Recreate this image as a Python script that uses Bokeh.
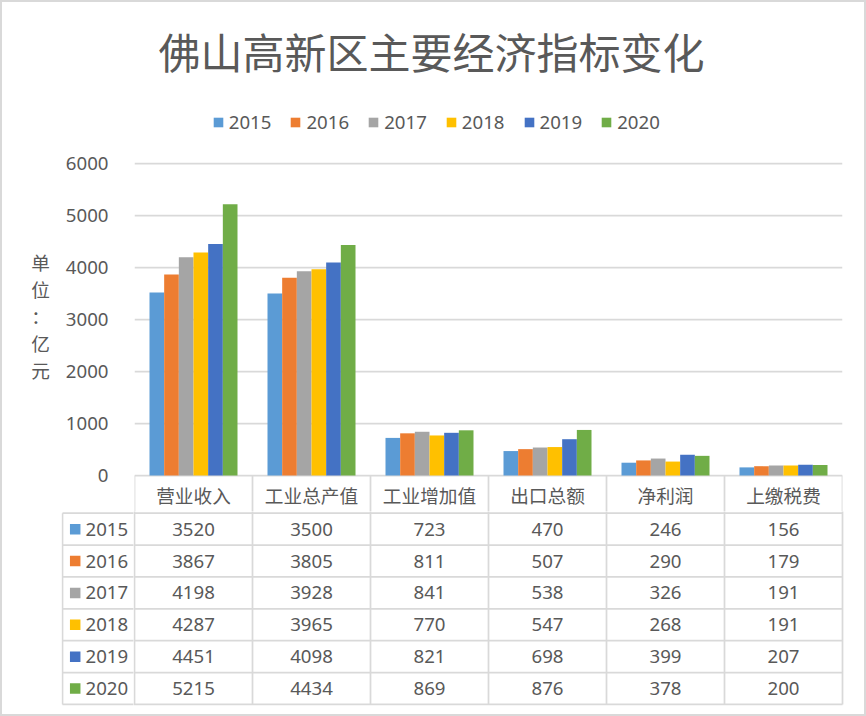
from bokeh.plotting import figure
from bokeh.layouts import column, row
from bokeh.models import Range1d, FixedTicker, Legend, LegendItem, ColumnDataSource
from bokeh.embed import file_html
from bokeh.resources import INLINE
from bokeh.core.properties import value

# ---------------- data ----------------
title_text = "佛山高新区主要经济指标变化"
unit_label = "单位：亿元"
categories = ["营业收入", "工业总产值", "工业增加值", "出口总额", "净利润", "上缴税费"]
years = ["2015", "2016", "2017", "2018", "2019", "2020"]
v2015 = [3520, 3500, 723, 470, 246, 156]
v2016 = [3867, 3805, 811, 507, 290, 179]
v2017 = [4198, 3928, 841, 538, 326, 191]
v2018 = [4287, 3965, 770, 547, 268, 191]
v2019 = [4451, 4098, 821, 698, 399, 207]
v2020 = [5215, 4434, 869, 876, 378, 200]
series = [v2015, v2016, v2017, v2018, v2019, v2020]
y_ticks = [0, 1000, 2000, 3000, 4000, 5000, 6000]

# ---------------- styles / layout ----------------
colors = ["#5B9BD5", "#ED7D31", "#A5A5A5", "#FFC000", "#4472C4", "#70AD47"]
TXT = "#595959"
GRID = "#D9D9D9"
CJK = "Noto Sans CJK SC"
LAT = "Noto Sans"
FS = "18.67px"
LW = 1.75

W = 866
H = 716
PLOT_L, PLOT_R = 134, 842
NC = len(categories)
CAT_PX = (PLOT_R - PLOT_L) / NC
TOP_H = 145          # title + legend strip
A_BOTTOM = 511       # bottom of the bar chart strip (includes table header row)
Y0_PX = 475          # pixel row of the zero line
PX_PER_1000 = 52.0
BAR_W = 0.1243
HEAD_H = 37.7
ROW_H = 31.88


def px_to_x(px):
    return (px - PLOT_L) / CAT_PX


def px_to_y(px):
    return (Y0_PX - px) * 1000 / PX_PER_1000


def clean(f):
    f.outline_line_color = None
    f.background_fill_alpha = 0
    f.border_fill_alpha = 0
    return f


sources = []
n = len(years)
for j, vals in enumerate(series):
    xs = [i + 0.5 + (j - (n - 1) / 2) * BAR_W for i in range(NC)]
    sources.append(ColumnDataSource(dict(x=xs, top=vals)))

# ---------------- title + legend strip ----------------
top = clean(figure(width=W, height=TOP_H, x_range=Range1d(0, NC), y_range=Range1d(-2, -1),
                   x_axis_type=None, y_axis_type=None,
                   output_backend="svg", toolbar_location=None,
                   min_border_left=PLOT_L, min_border_right=W - PLOT_R,
                   min_border_top=90, min_border_bottom=0))
top.xgrid.visible = False
top.ygrid.visible = False
top.title.text = title_text
top.title.text_font = CJK
top.title.text_font_size = "42px"
top.title.text_font_style = "normal"
top.title.text_color = TXT
top.title.align = "left"
top.title.offset = 24
top.title.standoff = 35

items = []
for j, yr in enumerate(years):
    # hidden renderers: they only lend their fill to the legend swatch
    sw = top.vbar(x="x", top="top", bottom="top", width=BAR_W, source=sources[j],
                  fill_color=colors[j], line_color=None, visible=False)
    items.append(LegendItem(label=yr, renderers=[sw]))
legend = Legend(items=items, orientation="horizontal", location=(77.75, TOP_H - 134),
                padding=0, margin=0, spacing=18, glyph_width=12, glyph_height=12,
                label_standoff=5, label_text_font=LAT, label_text_font_size=FS,
                label_text_color=TXT, border_line_color=None,
                background_fill_alpha=0)
if "inactive_fill_alpha" in legend.properties():
    legend.inactive_fill_alpha = 0
top.add_layout(legend)

# ---------------- bar chart (+ table header row) ----------------
A_H = A_BOTTOM - TOP_H
y_start = px_to_y(A_BOTTOM)
y_end = px_to_y(TOP_H)

p = clean(figure(width=W, height=A_H, x_range=Range1d(0, NC),
                 y_range=Range1d(y_start, y_end), x_axis_type=None,
                 output_backend="svg", toolbar_location=None,
                 min_border_left=PLOT_L, min_border_right=W - PLOT_R,
                 min_border_top=0, min_border_bottom=0))

for j in range(n):
    p.vbar(x="x", top="top", width=BAR_W, source=sources[j],
           fill_color=colors[j], line_color=None)

# table column boundaries below the zero line
p.segment(x0=list(range(NC + 1)), y0=[0] * (NC + 1),
          x1=list(range(NC + 1)), y1=[y_start] * (NC + 1),
          line_color=GRID, line_width=LW)
cx = [i + 0.5 for i in range(NC)]
p.text(x=cx, y=[px_to_y(Y0_PX + HEAD_H / 2)] * NC, text=categories,
       text_align="center", text_baseline="middle", text_font=value(CJK),
       text_font_size=FS, text_color=TXT)

ax = p.yaxis[0]
ax.ticker = FixedTicker(ticks=y_ticks)
ax.major_label_text_font = LAT
ax.major_label_text_font_size = FS
ax.major_label_text_color = TXT
ax.axis_line_color = None
ax.major_tick_line_color = None
ax.minor_tick_line_color = None
ax.major_tick_out = 0
ax.major_label_standoff = 26
ax.axis_label = "\n".join(unit_label) + "\n"
ax.axis_label_text_font = CJK
ax.axis_label_text_font_size = FS
ax.axis_label_text_font_style = "normal"
ax.axis_label_text_color = TXT
ax.axis_label_text_line_height = 1.0
ax.axis_label_standoff = 13
if "axis_label_orientation" in ax.properties():
    ax.axis_label_orientation = "horizontal"
p.ygrid.grid_line_color = GRID
p.ygrid.grid_line_width = LW

# ---------------- data table rows ----------------
T_H = H - A_BOTTOM
T_BOTTOM_BORDER = 10
TABLE_L = 62
C_FRAME_L = 61
SPLIT = 133
B_FRAME_R = 844
nrows = len(years)
table_bottom = -(HEAD_H + ROW_H * nrows)
t_yr = Range1d(-(H - T_BOTTOM_BORDER - Y0_PX), -(A_BOTTOM - Y0_PX))
row_lines = [-(HEAD_H + ROW_H * k) for k in range(nrows + 1)]
row_y = [-(HEAD_H + ROW_H * (j + 0.5)) for j in range(nrows)]


def base_fig(w, xr, bl, br):
    f = clean(figure(width=w, height=T_H, x_range=xr, y_range=t_yr,
                     x_axis_type=None, y_axis_type=None,
                     output_backend="svg", toolbar_location=None,
                     min_border_left=bl, min_border_right=br,
                     min_border_top=0, min_border_bottom=T_BOTTOM_BORDER))
    f.xgrid.visible = False
    f.ygrid.visible = False
    return f


# left column: series keys
c = base_fig(SPLIT, Range1d(px_to_x(C_FRAME_L), px_to_x(SPLIT)), C_FRAME_L, 0)
xl = px_to_x(TABLE_L)
c.segment(x0=[xl] * len(row_lines), y0=row_lines, x1=[0.2] * len(row_lines),
          y1=row_lines, line_color=GRID, line_width=LW)
c.segment(x0=[xl], y0=[-HEAD_H], x1=[xl], y1=[table_bottom],
          line_color=GRID, line_width=LW)
c.text(x=[px_to_x(85)] * nrows, y=row_y, text=years, text_align="left",
       text_baseline="middle", text_font=value(LAT), text_font_size=FS,
       text_color=TXT)
c.scatter(x=[px_to_x(74.7)] * nrows, y=row_y, marker="square", size=10.5,
          fill_color=colors, line_color=None)

# value cells
b = base_fig(W - SPLIT, Range1d(px_to_x(SPLIT), px_to_x(B_FRAME_R)), 0, W - B_FRAME_R)
b.segment(x0=list(range(NC + 1)), y0=[5] * (NC + 1),
          x1=list(range(NC + 1)), y1=[table_bottom] * (NC + 1),
          line_color=GRID, line_width=LW)
b.segment(x0=[-0.2] * len(row_lines), y0=row_lines, x1=[NC] * len(row_lines),
          y1=row_lines, line_color=GRID, line_width=LW)

vx, vy, vt = [], [], []
for j, vals in enumerate(series):
    for i, v in enumerate(vals):
        vx.append(i + 0.5); vy.append(row_y[j]); vt.append(str(v))
b.text(x=vx, y=vy, text=vt, text_align="center", text_baseline="middle",
       text_font=value(LAT), text_font_size=FS, text_color=TXT)

layout = column(top, p, row(c, b),
                styles={"background-color": "white",
                        "outline": "2px solid #D9D9D9", "outline-offset": "-2px"})
open("out.html", "w").write(file_html(layout, INLINE))
